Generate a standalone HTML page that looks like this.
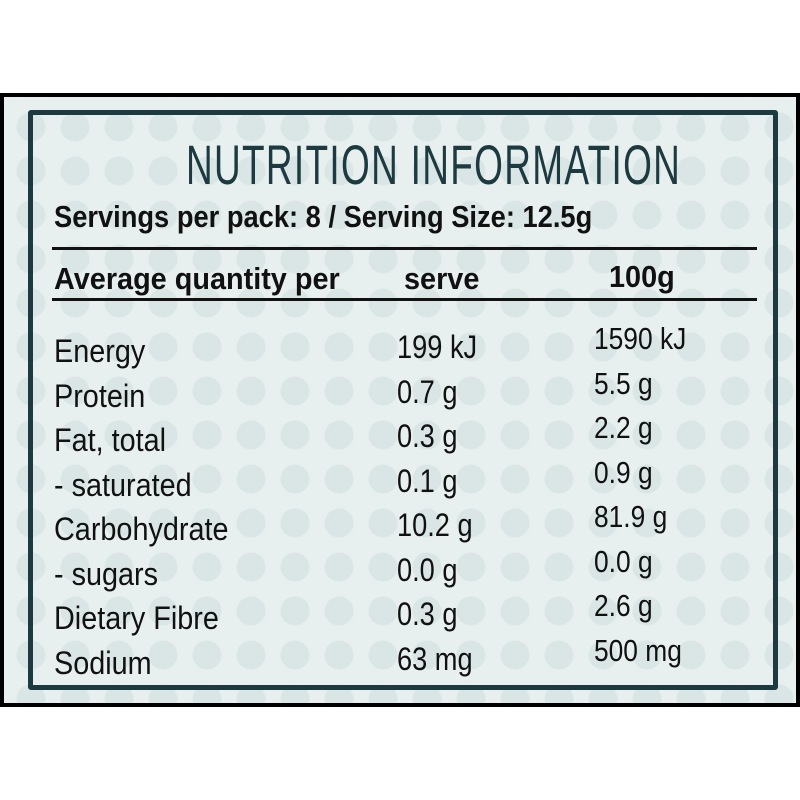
<!DOCTYPE html>
<html><head><style>
body{margin:0;width:800px;height:800px;background:#fff;position:relative;overflow:hidden;font-family:"Liberation Sans",sans-serif}
#photo{position:absolute;left:0;top:93px;width:792px;height:606px;border:4px solid #000;background-color:#e8f0ef;overflow:hidden;
background-image:radial-gradient(circle,#d9e6e5 14px,transparent 15px);background-size:44px 44px;background-position:5px 8px}
#box{position:absolute;left:24px;top:13px;width:740px;height:570px;border:5px solid #1c3a40;border-radius:3px}
.t{position:absolute;white-space:nowrap;color:#111;line-height:1;transform-origin:0 0}
.b{font-weight:bold}
.line{position:absolute;height:3px;background:#111}
</style></head><body>
<div id="photo">
<div id="box"></div>
<div class="t" style="left:182px;top:40px;font-size:56px;color:#1c3a40;letter-spacing:2px;transform:scaleX(0.66)">NUTRITION INFORMATION</div>
<div class="t b" style="left:50px;top:104px;font-size:31px;transform:scaleX(0.88)">Servings per pack: 8 / Serving Size: 12.5g</div>
<div class="line" style="left:48px;top:150px;width:705px"></div>
<div class="t b" style="left:50px;top:166px;font-size:31px;transform:scaleX(0.93)">Average quantity per</div>
<div class="t b" style="left:400px;top:166px;font-size:31px;transform:scaleX(0.93)">serve</div>
<div class="t b" style="left:605px;top:164px;font-size:31px;transform:scaleX(0.93)">100g</div>
<div class="line" style="left:48px;top:201px;width:705px"></div>
<div class="t" style="left:50px;top:232px;font-size:32px;line-height:44.5px;transform:scaleX(0.9)">Energy<br>Protein<br>Fat, total<br>- saturated<br>Carbohydrate<br>- sugars<br>Dietary Fibre<br>Sodium</div>
<div class="t" style="left:393px;top:228px;font-size:32px;line-height:44.5px;transform:scaleX(0.85)">199 kJ<br>0.7 g<br>0.3 g<br>0.1 g<br>10.2 g<br>0.0 g<br>0.3 g<br>63 mg</div>
<div class="t" style="left:590px;top:220px;font-size:31px;line-height:44.5px;transform:scaleX(0.85)">1590 kJ<br>5.5 g<br>2.2 g<br>0.9 g<br>81.9 g<br>0.0 g<br>2.6 g<br>500 mg</div>
</div>
</body></html>
